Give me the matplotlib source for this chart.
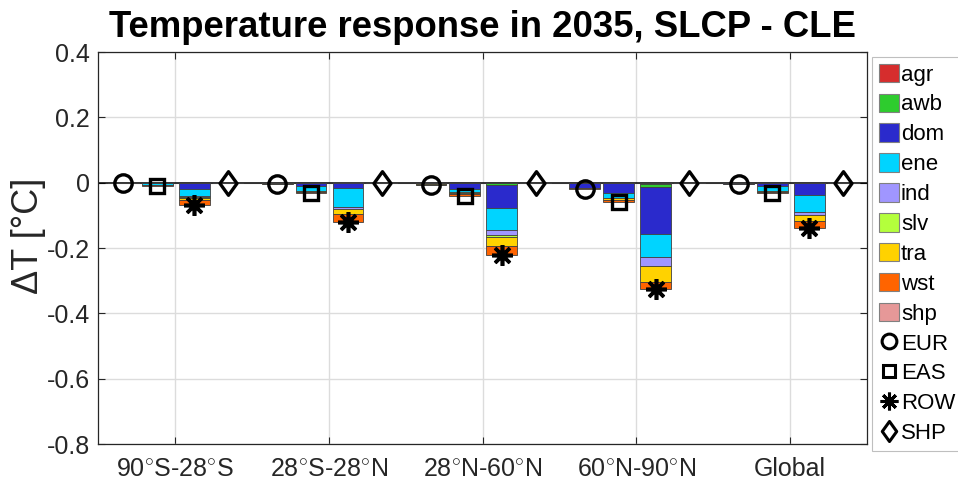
import matplotlib
matplotlib.use("Agg")
import matplotlib.pyplot as plt
import numpy as np
from matplotlib.patches import Patch
from matplotlib.lines import Line2D
from matplotlib.path import Path

plt.rcParams['font.family'] = ['Liberation Sans', 'DejaVu Sans']
plt.rcParams['mathtext.fontset'] = 'custom'
plt.rcParams['mathtext.rm'] = 'Liberation Sans'

regions = ["90$^{\\circ}$S-28$^{\\circ}$S", "28$^{\\circ}$S-28$^{\\circ}$N",
           "28$^{\\circ}$N-60$^{\\circ}$N", "60$^{\\circ}$N-90$^{\\circ}$N", "Global"]
sectors = ["agr", "awb", "dom", "ene", "ind", "slv", "tra", "wst", "shp"]
sector_colors = ["#d62d2d", "#2ecc2e", "#2a2acc", "#00d4ff", "#a096ff",
                 "#b4ff3c", "#ffd200", "#ff6400", "#e69898"]
sources = ["EUR", "EAS", "ROW", "SHP"]

# rows: regions; columns: agr, awb, dom, ene, ind, slv, tra, wst, shp
eur = [[0.000, 0.000, -0.001, 0.000, 0.000, 0.000, 0.000, -0.001, 0.000],
       [0.000, 0.000, -0.001, -0.001, 0.000, 0.000, -0.001, -0.001, 0.000],
       [0.000, 0.000, -0.003, -0.002, 0.000, 0.000, -0.001, -0.002, 0.000],
       [0.000, 0.000, -0.015, 0.000, 0.000, 0.000, -0.002, -0.003, 0.000],
       [-0.001, 0.000, -0.002, 0.000, 0.000, 0.000, 0.000, -0.002, 0.000]]
eas = [[0.000, 0.000, -0.002, -0.005, 0.000, 0.000, -0.001, -0.001, 0.000],
       [0.000, 0.000, -0.009, -0.015, -0.002, 0.000, -0.002, -0.004, 0.000],
       [0.000, 0.000, -0.018, -0.012, 0.000, -0.003, -0.002, -0.006, 0.000],
       [0.000, 0.000, -0.032, -0.015, 0.000, 0.000, -0.007, -0.006, 0.000],
       [0.000, 0.000, -0.010, -0.014, 0.000, 0.000, -0.004, -0.004, 0.000]]
row = [[-0.001, 0.000, -0.017, -0.024, -0.003, -0.001, -0.008, -0.013, 0.000],
       [0.002, 0.000, -0.016, -0.058, -0.007, 0.000, -0.015, -0.025, 0.000],
       [-0.002, -0.005, -0.072, -0.067, -0.015, -0.004, -0.028, -0.027, 0.000],
       [-0.004, -0.010, -0.142, -0.073, -0.027, 0.000, -0.048, -0.023, 0.000],
       [-0.001, 0.000, -0.037, -0.052, -0.010, 0.000, -0.017, -0.023, 0.000]]
shp = [[0.000, 0.000, 0.000, 0.000, 0.000, 0.000, 0.000, 0.000, 0.000],
       [0.000, 0.000, 0.000, 0.000, 0.000, 0.000, 0.000, 0.000, 0.000],
       [0.000, 0.000, 0.000, 0.000, 0.000, 0.000, 0.000, 0.000, 0.000],
       [0.000, 0.000, 0.000, 0.000, 0.000, 0.000, 0.000, 0.000, 0.000],
       [0.000, 0.000, 0.000, 0.000, 0.000, 0.000, 0.000, 0.000, 0.000]]

yticks = [0.4, 0.2, 0, -0.2, -0.4, -0.6, -0.8]
ytick_labels = ["0.4", "0.2", "0", "-0.2", "-0.4", "-0.6", "-0.8"]

fig = plt.figure(figsize=(9.58, 4.92), dpi=100)
ax = fig.add_axes([98/958, 1-444/492, (867-98)/958, (444-52)/492])

x = np.arange(1, len(regions) + 1)
offsets = [-0.335, -0.115, 0.125, 0.345]
width = 0.2

diamond = Path([(0, 1), (0.72, 0), (0, -1), (-0.72, 0), (0, 1)],
               [Path.MOVETO, Path.LINETO, Path.LINETO, Path.LINETO, Path.CLOSEPOLY])
marker_styles = [dict(marker='o', markersize=12.5, markeredgewidth=2.4),
                 dict(marker='s', markersize=10.5, markeredgewidth=2.4),
                 dict(marker=(8, 2, 0), markersize=15, markeredgewidth=2.6),
                 dict(marker=diamond, markersize=17, markeredgewidth=2.4)]

ax.grid(True, color='#dcdcdc', linewidth=1)
ax.set_axisbelow(True)
ax.axhline(0, color='black', linewidth=1.1, zorder=2)

for si, data in enumerate([eur, eas, row, shp]):
    arr = np.array(data)
    pos_bottom = np.zeros(len(regions))
    neg_bottom = np.zeros(len(regions))
    xs = x + offsets[si]
    for k in range(len(sectors)):
        vals = arr[:, k]
        bottoms = np.where(vals >= 0, pos_bottom, neg_bottom)
        ax.bar(xs, vals, width=width, bottom=bottoms, color=sector_colors[k],
               edgecolor='#404040', linewidth=0.6, zorder=3)
        pos_bottom = pos_bottom + np.where(vals >= 0, vals, 0)
        neg_bottom = neg_bottom + np.where(vals < 0, vals, 0)
    totals = arr.sum(axis=1)
    ax.plot(xs, totals, linestyle='none', color='black', markerfacecolor='none',
            markeredgecolor='black', zorder=5, **marker_styles[si])

ax.set_xlim(0.5, 5.5)
ax.set_ylim(-0.8, 0.4)
ax.set_xticks(x)
ax.set_xticklabels(regions, fontsize=18)
ax.set_yticks(yticks)
ax.set_yticklabels(ytick_labels, fontsize=18)
ax.tick_params(direction='in', top=True, right=True, length=5, width=0.8,
               colors='#262626', labelcolor='#262626', pad=6)
ax.tick_params(axis='x', pad=9)
for sp in ax.spines.values():
    sp.set_linewidth(0.9)
    sp.set_color('#262626')
ax.set_ylabel("ΔT [°C]", fontsize=26, color='#262626')
ax.yaxis.set_label_coords(-0.068, 0.53)
ax.set_title("Temperature response in 2035, SLCP - CLE", fontsize=26.3,
             fontweight='bold', pad=11)

handles = [Patch(facecolor=c, edgecolor='#808080', linewidth=0.8) for c in sector_colors]
labels = list(sectors)
for si, name in enumerate(sources):
    st = dict(marker_styles[si])
    st['markersize'] = st['markersize'] * 0.85
    st['markeredgewidth'] = 2.2
    handles.append(Line2D([], [], linestyle='none', color='black',
                          markerfacecolor='none', markeredgecolor='black', **st))
    labels.append(name)

leg = fig.legend(handles, labels, loc='upper left',
                 bbox_to_anchor=(872/958, 1-57/492), fontsize=16,
                 frameon=True, fancybox=False, edgecolor='#b0b0b0',
                 handlelength=0.9, handleheight=0.9, handletextpad=0.1,
                 labelspacing=0.36, borderpad=0.3, borderaxespad=0.0)
leg.get_frame().set_linewidth(0.8)

fig.savefig("out.png", dpi=100)
